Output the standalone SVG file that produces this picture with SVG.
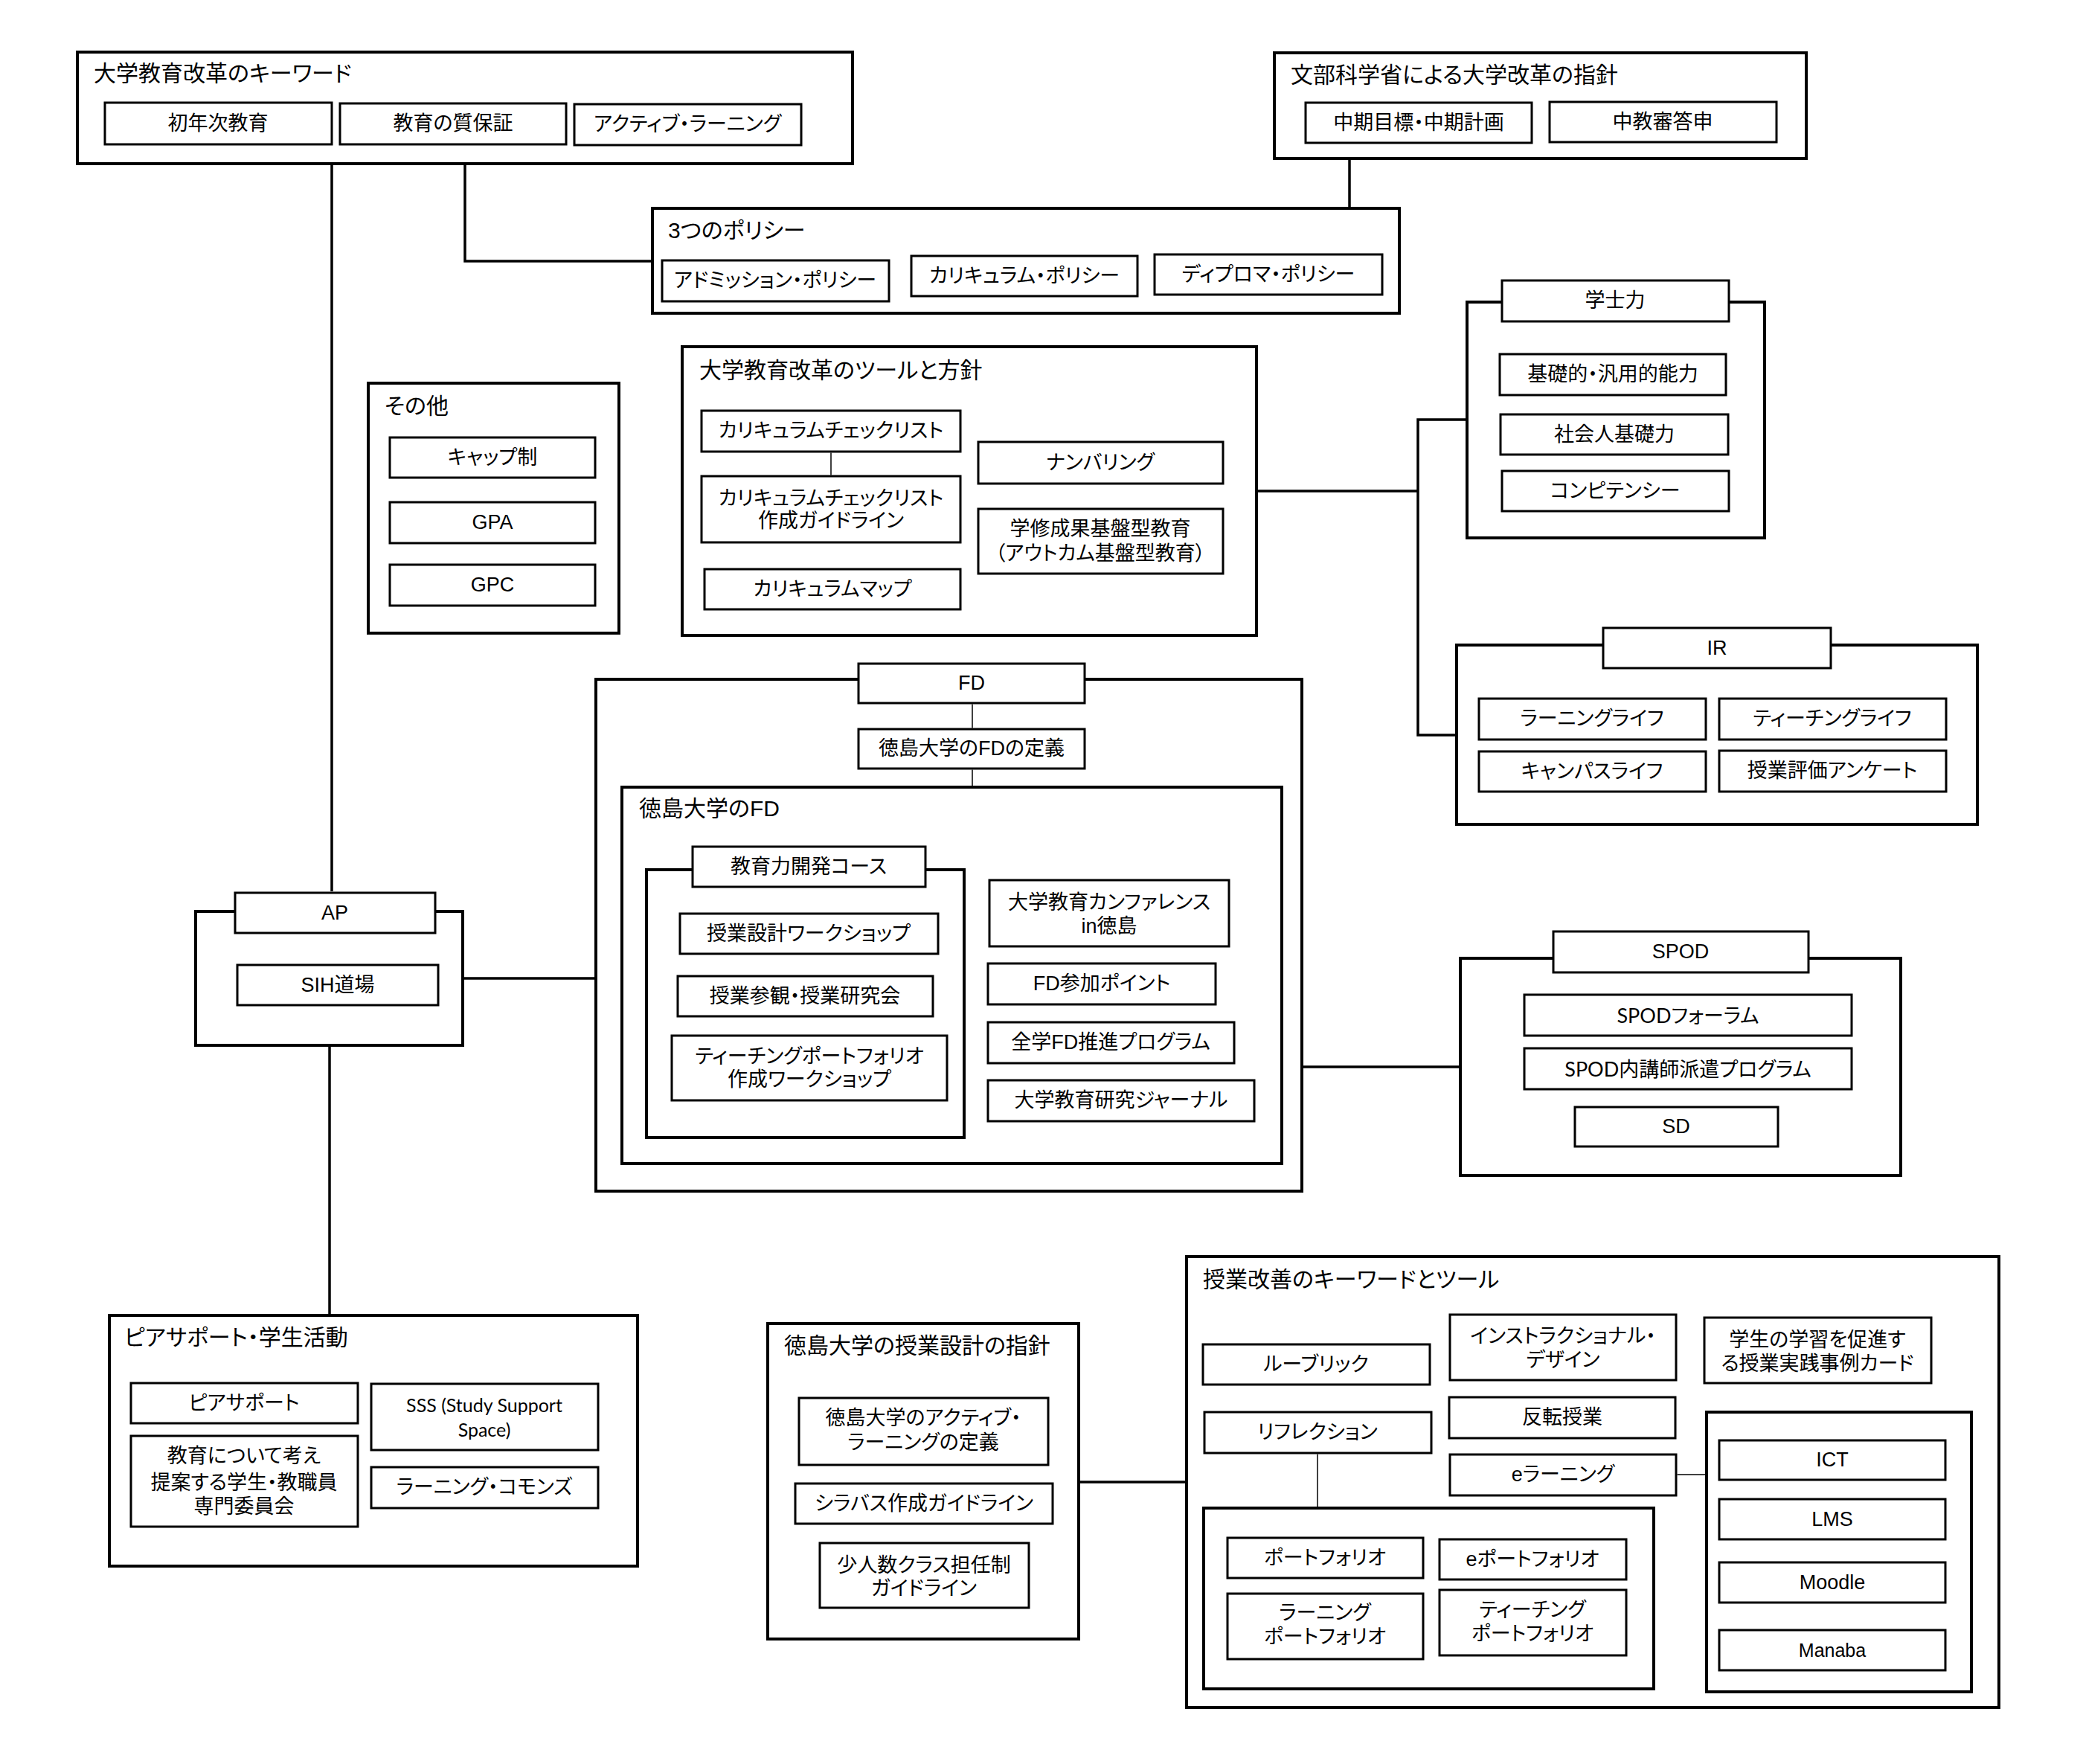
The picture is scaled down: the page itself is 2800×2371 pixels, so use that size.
<svg xmlns="http://www.w3.org/2000/svg" width="2800" height="2371" viewBox="0 0 2800 2371">
<style>
.g{fill:#fff;stroke:#000;stroke-width:4}
.b{fill:#fff;stroke:#000;stroke-width:3}
.c{fill:none;stroke:#000;stroke-width:3.5}
.t{fill:none;stroke:#000;stroke-width:1.5}
text{font-family:"Liberation Sans","Noto Sans CJK JP",sans-serif;font-feature-settings:"palt";fill:#000}
.l{font-size:27px;text-anchor:middle;dominant-baseline:central}
.h{font-size:30px;dominant-baseline:central}
.s{font-family:Lato,"Noto Sans CJK JP",sans-serif}
</style>
<rect width="2800" height="2371" fill="#fff"/>
<g id="keywords">
<rect class="g" x="104" y="70" width="1042" height="150"/>
<text class="h" x="126" y="98">大学教育改革のキーワード</text>
<rect class="b" x="141" y="138" width="305" height="56"/><text class="l" x="293" y="166">初年次教育</text>
<rect class="b" x="457" y="139" width="304" height="55"/><text class="l" x="609" y="166">教育の質保証</text>
<rect class="b" x="772" y="140" width="305" height="55"/><text class="l" x="924" y="167">アクティブ・ラーニング</text>
</g>
<g id="mext">
<rect class="g" x="1713" y="71" width="715" height="142"/>
<text class="h" x="1735" y="100">文部科学省による大学改革の指針</text>
<rect class="b" x="1755" y="138" width="304" height="54"/><text class="l" x="1907" y="165">中期目標・中期計画</text>
<rect class="b" x="2083" y="137" width="305" height="54"/><text class="l" x="2235" y="164">中教審答申</text>
</g>
<g id="policy">
<rect class="g" x="877" y="280" width="1004" height="141"/>
<text class="h" x="898" y="309">3つのポリシー</text>
<rect class="b" x="890" y="350" width="305" height="55"/><text class="l" x="1042" y="377">アドミッション・ポリシー</text>
<rect class="b" x="1225" y="344" width="304" height="54"/><text class="l" x="1377" y="371">カリキュラム・ポリシー</text>
<rect class="b" x="1552" y="342" width="306" height="54"/><text class="l" x="1705" y="369">ディプロマ・ポリシー</text>
</g>
<g id="tools">
<rect class="g" x="917" y="466" width="772" height="388"/>
<text class="h" x="940" y="497">大学教育改革のツールと方針</text>
<rect class="b" x="943" y="552" width="348" height="55"/><text class="l" x="1117" y="579">カリキュラムチェックリスト</text>
<rect class="b" x="943" y="640" width="348" height="89"/><text class="l" x="1117" y="670">カリキュラムチェックリスト</text><text class="l" x="1117" y="700">作成ガイドライン</text>
<rect class="b" x="947" y="765" width="344" height="54"/><text class="l" x="1119" y="792">カリキュラムマップ</text>
<rect class="b" x="1315" y="594" width="329" height="56"/><text class="l" x="1479" y="622">ナンバリング</text>
<rect class="b" x="1315" y="684" width="329" height="87"/><text class="l" x="1479" y="711">学修成果基盤型教育</text><text class="l" x="1479" y="744">（アウトカム基盤型教育）</text>
</g>
<g id="gakushiryoku">
<rect class="g" x="1972" y="406" width="400" height="317"/>
<rect class="b" x="2019" y="377" width="305" height="55"/><text class="l" x="2171" y="404">学士力</text>
<rect class="b" x="2016" y="476" width="304" height="55"/><text class="l" x="2168" y="503">基礎的・汎用的能力</text>
<rect class="b" x="2017" y="557" width="306" height="54"/><text class="l" x="2170" y="584">社会人基礎力</text>
<rect class="b" x="2019" y="633" width="305" height="54"/><text class="l" x="2171" y="660">コンピテンシー</text>
</g>
<g id="sonota">
<rect class="g" x="495" y="515" width="337" height="336"/>
<text class="h" x="517" y="545">その他</text>
<rect class="b" x="524" y="588" width="276" height="54"/><text class="l" x="662" y="615">キャップ制</text>
<rect class="b" x="524" y="675" width="276" height="55"/><text class="l" x="662" y="702">GPA</text>
<rect class="b" x="524" y="759" width="276" height="55"/><text class="l" x="662" y="786">GPC</text>
</g>
<g id="ir">
<rect class="g" x="1958" y="867" width="700" height="241"/>
<rect class="b" x="2155" y="844" width="306" height="54"/><text class="l" x="2308" y="871">IR</text>
<rect class="b" x="1988" y="939" width="305" height="55"/><text class="l" x="2140" y="966">ラーニングライフ</text>
<rect class="b" x="2311" y="939" width="305" height="55"/><text class="l" x="2463" y="966">ティーチングライフ</text>
<rect class="b" x="1988" y="1010" width="305" height="54"/><text class="l" x="2140" y="1037">キャンパスライフ</text>
<rect class="b" x="2311" y="1009" width="305" height="55"/><text class="l" x="2463" y="1036">授業評価アンケート</text>
</g>
<g id="fd">
<rect class="g" x="801" y="913" width="949" height="688"/>
<rect class="b" x="1154" y="892" width="304" height="53"/><text class="l" x="1306" y="918">FD</text>
<rect class="b" x="1154" y="980" width="304" height="53"/><text class="l" x="1306" y="1006">徳島大学のFDの定義</text>
<rect class="g" x="836" y="1058" width="887" height="506"/>
<text class="h" x="859" y="1086">徳島大学のFD</text>
<rect class="g" x="869" y="1169" width="427" height="360"/>
<rect class="b" x="931" y="1138" width="313" height="54"/><text class="l" x="1087" y="1165">教育力開発コース</text>
<rect class="b" x="914" y="1228" width="347" height="54"/><text class="l" x="1087" y="1255">授業設計ワークショップ</text>
<rect class="b" x="911" y="1312" width="343" height="54"/><text class="l" x="1082" y="1339">授業参観・授業研究会</text>
<rect class="b" x="903" y="1392" width="370" height="87"/><text class="l" x="1088" y="1420">ティーチングポートフォリオ</text><text class="l" x="1088" y="1451">作成ワークショップ</text>
<rect class="b" x="1330" y="1183" width="322" height="89"/><text class="l" x="1491" y="1213">大学教育カンファレンス</text><text class="l" x="1491" y="1245">in徳島</text>
<rect class="b" x="1328" y="1295" width="306" height="55"/><text class="l" x="1481" y="1322">FD参加ポイント</text>
<rect class="b" x="1328" y="1374" width="331" height="55"/><text class="l" x="1493" y="1401">全学FD推進プログラム</text>
<rect class="b" x="1328" y="1452" width="358" height="55"/><text class="l" x="1507" y="1479">大学教育研究ジャーナル</text>
</g>
<g id="ap">
<rect class="g" x="263" y="1225" width="359" height="180"/>
<rect class="b" x="316" y="1200" width="269" height="54"/><text class="l" x="450" y="1227">AP</text>
<rect class="b" x="319" y="1297" width="270" height="54"/><text class="l" x="454" y="1324">SIH道場</text>
</g>
<g id="spod">
<rect class="g" x="1963" y="1288" width="592" height="292"/>
<rect class="b" x="2088" y="1252" width="343" height="55"/><text class="l" x="2259" y="1279">SPOD</text>
<rect class="b" x="2049" y="1337" width="440" height="55"/><text class="l s" x="2269" y="1364">SPODフォーラム</text>
<rect class="b" x="2049" y="1409" width="440" height="55"/><text class="l s" x="2269" y="1436">SPOD内講師派遣プログラム</text>
<rect class="b" x="2117" y="1488" width="273" height="53"/><text class="l" x="2253" y="1514">SD</text>
</g>
<g id="peer">
<rect class="g" x="147" y="1768" width="710" height="337"/>
<text class="h" x="167" y="1797">ピアサポート・学生活動</text>
<rect class="b" x="176" y="1859" width="305" height="54"/><text class="l" x="328" y="1886">ピアサポート</text>
<rect class="b" x="176" y="1930" width="305" height="122"/><text class="l" x="328" y="1957">教育について考え</text><text class="l" x="328" y="1993">提案する学生・教職員</text><text class="l" x="328" y="2025">専門委員会</text>
<rect class="b" x="499" y="1860" width="305" height="89"/><text class="l s" x="651" y="1888" style="font-size:25px">SSS (Study Support</text><text class="l s" x="651" y="1921" style="font-size:25px">Space)</text>
<rect class="b" x="499" y="1972" width="305" height="55"/><text class="l" x="651" y="1999">ラーニング・コモンズ</text>
</g>
<g id="shishin">
<rect class="g" x="1032" y="1779" width="418" height="424"/>
<text class="h" x="1054" y="1808">徳島大学の授業設計の指針</text>
<rect class="b" x="1074" y="1879" width="335" height="90"/><text class="l" x="1241" y="1906">徳島大学のアクティブ・</text><text class="l" x="1241" y="1939">ラーニングの定義</text>
<rect class="b" x="1069" y="1994" width="346" height="54"/><text class="l" x="1242" y="2021">シラバス作成ガイドライン</text>
<rect class="b" x="1102" y="2074" width="281" height="87"/><text class="l" x="1242" y="2104">少人数クラス担任制</text><text class="l" x="1242" y="2135">ガイドライン</text>
</g>
<g id="jugyo">
<rect class="g" x="1595" y="1689" width="1092" height="606"/>
<text class="h" x="1617" y="1719">授業改善のキーワードとツール</text>
<rect class="b" x="1617" y="1807" width="305" height="54"/><text class="l" x="1769" y="1834">ルーブリック</text>
<rect class="b" x="1619" y="1898" width="305" height="55"/><text class="l" x="1771" y="1925">リフレクション</text>
<rect class="g" x="1618" y="2027" width="605" height="243"/>
<rect class="b" x="1650" y="2067" width="263" height="54"/><text class="l" x="1781" y="2094">ポートフォリオ</text>
<rect class="b" x="1935" y="2069" width="251" height="54"/><text class="l" x="2060" y="2096">eポートフォリオ</text>
<rect class="b" x="1650" y="2142" width="263" height="88"/><text class="l" x="1781" y="2168">ラーニング</text><text class="l" x="1781" y="2200">ポートフォリオ</text>
<rect class="b" x="1935" y="2137" width="251" height="88"/><text class="l" x="2060" y="2164">ティーチング</text><text class="l" x="2060" y="2196">ポートフォリオ</text>
<rect class="b" x="1949" y="1767" width="304" height="88"/><text class="l" x="2101" y="1796">インストラクショナル・</text><text class="l" x="2101" y="1828">デザイン</text>
<rect class="b" x="1948" y="1878" width="304" height="55"/><text class="l" x="2100" y="1905">反転授業</text>
<rect class="b" x="1949" y="1955" width="304" height="55"/><text class="l" x="2101" y="1982">eラーニング</text>
<rect class="b" x="2291" y="1771" width="305" height="88"/><text class="l" x="2443" y="1801">学生の学習を促進す</text><text class="l" x="2443" y="1833">る授業実践事例カード</text>
<rect class="g" x="2294" y="1898" width="356" height="376"/>
<rect class="b" x="2311" y="1936" width="304" height="53"/><text class="l" x="2463" y="1962">ICT</text>
<rect class="b" x="2311" y="2015" width="304" height="54"/><text class="l" x="2463" y="2042">LMS</text>
<rect class="b" x="2311" y="2100" width="304" height="54"/><text class="l" x="2463" y="2127">Moodle</text>
<rect class="b" x="2311" y="2191" width="304" height="54"/><text class="l" x="2463" y="2218" style="font-size:25px">Manaba</text>
</g>
<g id="connectors">
<path class="c" d="M446,222V1198"/>
<path class="c" d="M625,222V351H875"/>
<path class="c" d="M1814,215V278"/>
<path class="c" d="M1691,660H1906M1970,564H1906V988H1956"/>
<path class="c" d="M624,1315H799"/>
<path class="c" d="M443,1407V1766"/>
<path class="c" d="M1752,1434H1961"/>
<path class="c" d="M1452,1992H1593"/>
<path class="t" d="M1117,608.5V638.5"/>
<path class="t" d="M1307,946.5V978.5M1307,1034.5V1056"/>
<path class="t" d="M1771,1954.5V2025"/>
<path class="t" d="M2254.5,1982H2292"/>
</g>
</svg>
